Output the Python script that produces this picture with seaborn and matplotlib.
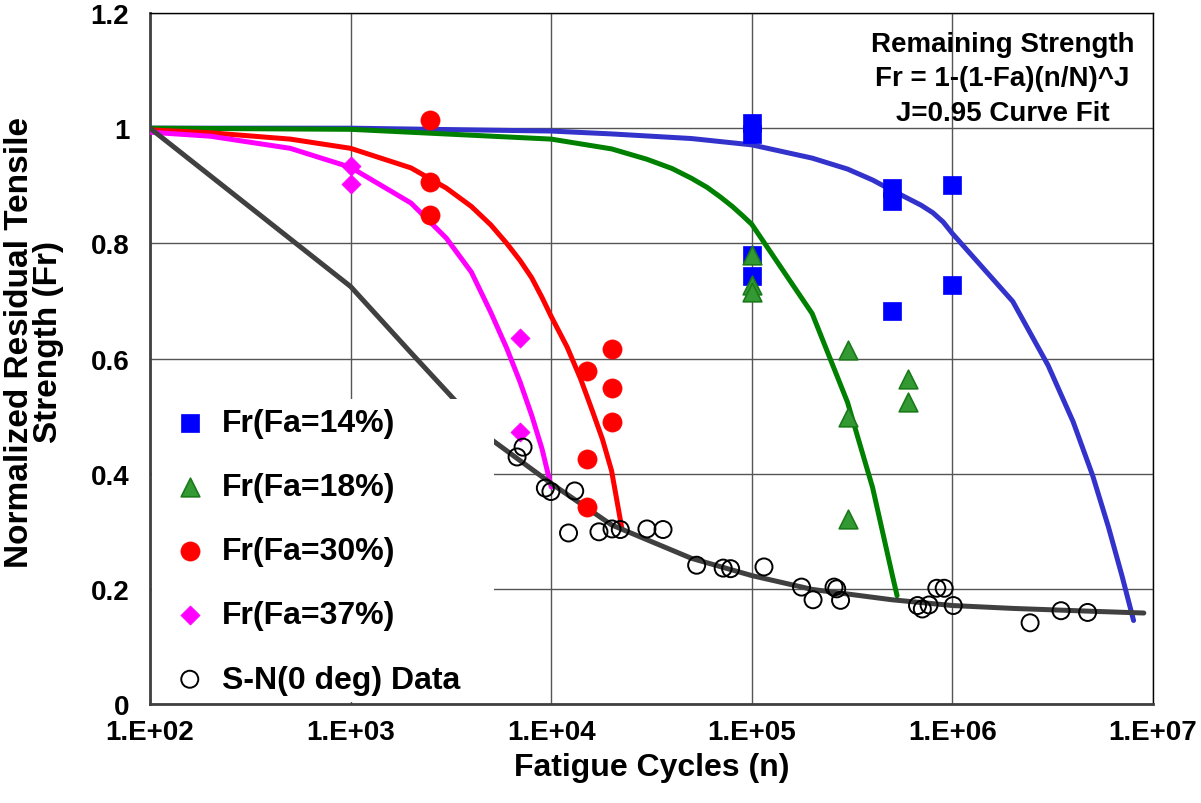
import matplotlib
matplotlib.use("Agg")
import matplotlib.pyplot as plt
import matplotlib.ticker as mticker
from matplotlib.patches import Rectangle
import pandas as pd
import seaborn as sns

# ---- measured residual strength (Fr) at fatigue cycles (n) ----
fa14_n = [1e5, 1e5, 1e5, 1e5, 5e5, 5e5, 5e5, 1e6, 1e6]
fa14_fr = [1.009, 0.990, 0.779, 0.743, 0.896, 0.873, 0.682, 0.901, 0.727]

fa18_n = [1e5, 1e5, 1e5, 3e5, 3e5, 3e5, 6e5, 6e5]
fa18_fr = [0.780, 0.728, 0.716, 0.614, 0.499, 0.322, 0.565, 0.524]

fa30_n = [2.5e3, 2.5e3, 2.5e3, 1.5e4, 1.5e4, 1.5e4, 2e4, 2e4, 2e4]
fa30_fr = [1.014, 0.906, 0.849, 0.579, 0.426, 0.342, 0.616, 0.549, 0.489]

fa37_n = [1e3, 1e3, 7e3, 7e3]
fa37_fr = [0.934, 0.903, 0.636, 0.473]

sn_n = [6.76e3, 7.24e3, 9.35e3, 9.97e3, 1.31e4, 1.22e4, 1.73e4, 2.01e4, 2.21e4,
        3.0e4, 3.61e4, 5.31e4, 7.2e4, 7.84e4, 1.15e5, 1.77e5, 2.02e5, 2.57e5,
        2.65e5, 2.77e5, 6.7e5, 7.08e5, 7.65e5, 8.36e5, 9.1e5, 1.01e6, 2.44e6,
        3.48e6, 4.72e6]
sn_fr = [0.429, 0.446, 0.375, 0.369, 0.370, 0.297, 0.299, 0.304, 0.303,
         0.304, 0.303, 0.241, 0.236, 0.235, 0.238, 0.203, 0.181, 0.203,
         0.200, 0.180, 0.171, 0.165, 0.172, 0.201, 0.201, 0.171, 0.141,
         0.162, 0.159]

# ---- curve fits ----
fit14_n = [1e2, 1e3, 1e4, 2e4, 5e4, 1e5, 2e5, 3e5, 4e5, 5e5, 6e5, 7e5, 8e5,
           9e5, 1e6, 2e6, 3e6, 4e6, 5e6, 6e6, 7e6, 8e6]
fit14_fr = [1.000, 1.000, 0.995, 0.990, 0.982, 0.971, 0.948, 0.929, 0.910,
            0.892, 0.878, 0.866, 0.853, 0.837, 0.817, 0.699, 0.588, 0.490,
            0.397, 0.307, 0.223, 0.145]

fit18_n = [1e2, 1e3, 1e4, 2e4, 3e4, 4e4, 5e4, 6e4, 7e4, 8e4, 9e4, 1e5, 2e5,
           3e5, 4e5, 5e5, 5.3e5]
fit18_fr = [1.000, 0.998, 0.981, 0.964, 0.946, 0.930, 0.913, 0.897, 0.880,
            0.864, 0.848, 0.833, 0.678, 0.524, 0.376, 0.226, 0.188]

fit30_n = [1e2, 2e2, 5e2, 1e3, 2e3, 3e3, 4e3, 5e3, 6e3, 7e3, 8e3, 9e3, 1e4,
           1.2e4, 1.4e4, 1.6e4, 1.8e4, 2e4, 2.25e4]
fit30_fr = [0.997, 0.992, 0.981, 0.965, 0.931, 0.896, 0.864, 0.832, 0.800,
            0.770, 0.740, 0.706, 0.673, 0.620, 0.565, 0.510, 0.460, 0.405,
            0.305]

fit37_n = [1e2, 2e2, 5e2, 1e3, 2e3, 3e3, 4e3, 5e3, 6e3, 7e3, 8e3, 9e3, 1e4]
fit37_fr = [0.993, 0.986, 0.965, 0.932, 0.870, 0.809, 0.750, 0.680, 0.618,
            0.559, 0.501, 0.443, 0.377]

sn_fit_n = [1e2, 1e3, 2e3, 5e3, 1e4, 2e4, 5e4, 1e5, 2e5, 5e5, 1e6, 2e6, 5e6, 9e6]
sn_fit_fr = [1.000, 0.725, 0.610, 0.460, 0.383, 0.311, 0.253, 0.223, 0.199,
             0.181, 0.171, 0.166, 0.161, 0.158]

x_ticks = [1e2, 1e3, 1e4, 1e5, 1e6, 1e7]
x_tick_labels = ["1.E+02", "1.E+03", "1.E+04", "1.E+05", "1.E+06", "1.E+07"]
y_ticks = [0, 0.2, 0.4, 0.6, 0.8, 1.0, 1.2]
y_tick_labels = ["0", "0.2", "0.4", "0.6", "0.8", "1", "1.2"]

sns.set_style("white")
plt.rcParams["font.family"] = ["Liberation Sans", "DejaVu Sans"]
plt.rcParams["font.weight"] = "bold"
plt.rcParams["text.color"] = "black"
plt.rcParams["axes.labelcolor"] = "black"
plt.rcParams["xtick.color"] = "black"
plt.rcParams["ytick.color"] = "black"

fig = plt.figure(figsize=(12.01, 8.04), dpi=100)
ax = fig.add_axes([150 / 1201, 1 - 705 / 804, 1003 / 1201, 691 / 804])

# fitted curves
fits = [
    (fit14_n, fit14_fr, "#3333cc"),
    (fit18_n, fit18_fr, "#008000"),
    (fit30_n, fit30_fr, "#ff0000"),
    (fit37_n, fit37_fr, "#ff00ff"),
    (sn_fit_n, sn_fit_fr, "#404040"),
]
for n_vals, fr_vals, col in fits:
    df = pd.DataFrame({"n": n_vals, "Fr": fr_vals})
    sns.lineplot(data=df, x="n", y="Fr", ax=ax, color=col, lw=3.6,
                 estimator=None, sort=False, legend=False, zorder=3)

# measured points
sns.scatterplot(x=fa14_n, y=fa14_fr, ax=ax, marker="s", s=150, color="#0000ff",
                edgecolor="#0000ff", linewidth=0.5, label="Fr(Fa=14%)", zorder=5)
sns.scatterplot(x=fa18_n, y=fa18_fr, ax=ax, marker="^", s=180, color="#339933",
                edgecolor="#1a7a1a", linewidth=1.2, label="Fr(Fa=18%)", zorder=5)
sns.scatterplot(x=fa30_n, y=fa30_fr, ax=ax, marker="o", s=190, color="#ff0000",
                edgecolor="#ff0000", linewidth=0.5, label="Fr(Fa=30%)", zorder=5)
sns.scatterplot(x=fa37_n, y=fa37_fr, ax=ax, marker="D", s=95, color="#ff00ff",
                edgecolor="#ff00ff", linewidth=0.5, label="Fr(Fa=37%)", zorder=5)
sns.scatterplot(x=sn_n, y=sn_fr, ax=ax, marker="o", s=150, facecolor="none",
                edgecolor="black", linewidth=1.4, label="S-N(0 deg) Data", zorder=5)

ax.set_xscale("log")
ax.set_xlim(1e2, 1e7)
ax.set_ylim(0, 1.2)

ax.set_xticks(x_ticks)
ax.set_xticklabels(x_tick_labels)
ax.xaxis.set_minor_locator(mticker.LogLocator(base=10, subs=range(2, 10), numticks=20))
ax.xaxis.set_minor_formatter(mticker.NullFormatter())
ax.set_yticks(y_ticks)
ax.set_yticklabels(y_tick_labels)
ax.yaxis.set_minor_locator(mticker.MultipleLocator(0.04))

ax.tick_params(axis="both", which="major", direction="inout", length=12, width=1.2,
               color="#404040", labelcolor="black", labelsize=20)
ax.tick_params(axis="x", which="major", pad=5)
ax.tick_params(axis="y", which="major", pad=9)
ax.tick_params(axis="both", which="minor", direction="inout", length=7, width=1.2,
               color="#404040")
for lab in ax.get_xticklabels() + ax.get_yticklabels():
    lab.set_fontweight("bold")

ax.grid(True, which="major", color="#555555", lw=1.0, zorder=1)
ax.set_axisbelow(True)

for side in ("left", "bottom"):
    ax.spines[side].set_color("#404040")
    ax.spines[side].set_linewidth(2)
for side in ("top", "right"):
    ax.spines[side].set_color("black")
    ax.spines[side].set_linewidth(1)

ax.set_xlabel("Fatigue Cycles (n)", fontsize=23, fontweight="bold")
ax.xaxis.set_label_coords(0.5, -0.069)
ax.set_ylabel("Normalized Residual Tensile\nStrength (Fr)", fontsize=24,
              fontweight="bold", linespacing=0.9)
ax.yaxis.set_label_coords(-0.086, 0.525)

# white panel behind the legend
ax.add_patch(Rectangle((0.002, 0.003), 0.341, 0.438, transform=ax.transAxes,
                       facecolor="white", edgecolor="none", zorder=4))
leg = ax.legend(loc="upper left", bbox_to_anchor=(0.011, 0.447), frameon=False,
                prop={"size": 23, "weight": "bold"}, labelspacing=1.07,
                handlelength=1.0, handletextpad=0.5, borderaxespad=0)
leg.set_zorder(6)

ax.text(0.850, 0.974, "Remaining Strength\nFr = 1-(1-Fa)(n/N)^J\nJ=0.95 Curve Fit",
        transform=ax.transAxes, ha="center", va="top", fontsize=20,
        fontweight="bold", linespacing=1.42, zorder=6)

fig.savefig("out.png", dpi=100)
